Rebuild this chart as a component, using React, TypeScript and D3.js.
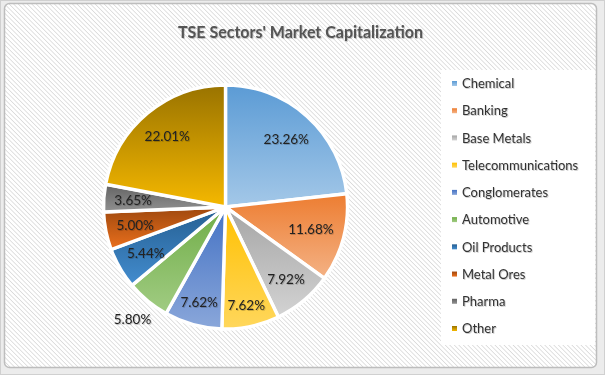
import React from "react";
import * as d3 from "d3";

const title = "TSE Sectors' Market Capitalization";
const categories = ["Chemical", "Banking", "Base Metals", "Telecommunications", "Conglomerates", "Automotive", "Oil Products", "Metal Ores", "Pharma", "Other"];
const shares = [23.26, 11.68, 7.92, 7.62, 7.62, 5.80, 5.44, 5.00, 3.65, 22.01];
const baseColors = ["#5B9BD5", "#ED7D31", "#A5A5A5", "#FFC000", "#4472C4", "#70AD47", "#255E91", "#9E480E", "#636363", "#997300"];
const outsideLabels = ["Automotive"];

const W = 605, H = 375;
const cx = 225.5, cy = 207, R = 122;
const FONT = "Lato, 'Open Sans', sans-serif";
const labelSize = 13.5;

let ctx: CanvasRenderingContext2D | null = null;
function textWidth(s: string, size: number) {
  if (!ctx) ctx = document.createElement("canvas").getContext("2d");
  if (!ctx) return s.length * size * 0.55;
  ctx.font = `${size}px Lato`;
  return ctx.measureText(s).width;
}

function boxDist(x: number, y: number, hw: number, hh: number, far: boolean) {
  if (far) {
    const fx = Math.abs(x) + hw, fy = Math.abs(y) + hh;
    return Math.hypot(fx, fy);
  }
  const nx = Math.max(0, Math.abs(x) - hw), ny = Math.max(0, Math.abs(y) - hh);
  return Math.hypot(nx, ny);
}

function labelPos(theta: number, hw: number, hh: number, outside: boolean) {
  const ux = Math.sin(theta), uy = -Math.cos(theta);
  const target = outside ? R + 7 : R - 10;
  let lo = outside ? R * 0.5 : 0, hi = outside ? R * 2 : R;
  for (let i = 0; i < 40; i++) {
    const m = (lo + hi) / 2;
    const d = boxDist(m * ux, m * uy, hw, hh, !outside);
    if (d < target) lo = m; else hi = m;
  }
  const r = (lo + hi) / 2;
  return [r * ux, r * uy];
}

export default function App() {
  const pie = d3.pie<number>().sort(null).value((d) => d);
  const arcs = pie(shares);
  const arc = d3.arc<d3.PieArcDatum<number>>().innerRadius(0).outerRadius(R);
  const legendY = d3.scalePoint<string>().domain(categories).range([83.5, 328.5]);

  const lighter = (c: string) => {
    const h = d3.hsl(c);
    h.l = Math.min(0.92, h.l + 0.18);
    return h.formatHex();
  };

  return (
    <svg width={W} height={H} style={{ position: "absolute", left: 0, top: 0 }} fontFamily={FONT}>
      <defs>
        <pattern id="hatch" width="3.2" height="3.2" patternUnits="userSpaceOnUse" patternTransform="rotate(-45)">
          <rect width="3.2" height="3.2" fill="#ffffff" />
          <line x1="0" y1="0" x2="0" y2="3.2" stroke="#d2d2d2" strokeWidth="1.3" />
        </pattern>
        {baseColors.map((c, i) => (
          <linearGradient key={i} id={`g${i}`} x1="0" y1="0" x2="0" y2="1">
            <stop offset="0" stopColor={c} />
            <stop offset="1" stopColor={lighter(c)} />
          </linearGradient>
        ))}
        <filter id="shadow" x="-10%" y="-30%" width="130%" height="160%">
          <feDropShadow dx="0.8" dy="0.8" stdDeviation="0.6" floodColor="#000" floodOpacity="0.25" />
        </filter>
      </defs>
      <rect x={0} y={0} width={W} height={H} fill="#ececec" />
      <rect x={0.5} y={0.5} width={W - 1} height={H - 1} fill="none" stroke="#d0d0d0" />
      <rect x={4.5} y={3.5} width={592} height={364} rx={5} fill="url(#hatch)" stroke="#bdbdbd" strokeWidth={1.5} />

      <text x={300.5} y={31.5} dy="0.36em" textAnchor="middle" fontSize={17.5} fontWeight={700} fill="#555555"
        textLength={245} lengthAdjust="spacingAndGlyphs" filter="url(#shadow)">{title}</text>

      <g transform={`translate(${cx},${cy})`}>
        {arcs.map((a, i) => (
          <path key={i} d={arc(a) || ""} fill={`url(#g${i})`} stroke="#ffffff" strokeWidth={3.4} strokeLinejoin="miter" />
        ))}
        {arcs.map((a, i) => {
          const txt = `${shares[i].toFixed(2)}%`;
          const hw = textWidth(txt, labelSize) / 2;
          const hh = 7;
          const theta = (a.startAngle + a.endAngle) / 2;
          const [x, y] = labelPos(theta, hw, hh, outsideLabels.includes(categories[i]));
          return (
            <text key={i} x={x} y={y} dy="0.36em" textAnchor="middle" fontSize={labelSize} fill="#222222"
              filter="url(#shadow)">{txt}</text>
          );
        })}
      </g>

      <rect x={441} y={70} width={154} height={275} fill="#ffffff" />
      {categories.map((c, i) => (
        <g key={c} transform={`translate(452,${legendY(c)})`}>
          <rect x={0} y={-2.5} width={5} height={5} fill={`url(#g${i})`} />
          <text x={10} y={0} dy="0.36em" fontSize={13} fill="#333333" filter="url(#shadow)">{c}</text>
        </g>
      ))}
    </svg>
  );
}
